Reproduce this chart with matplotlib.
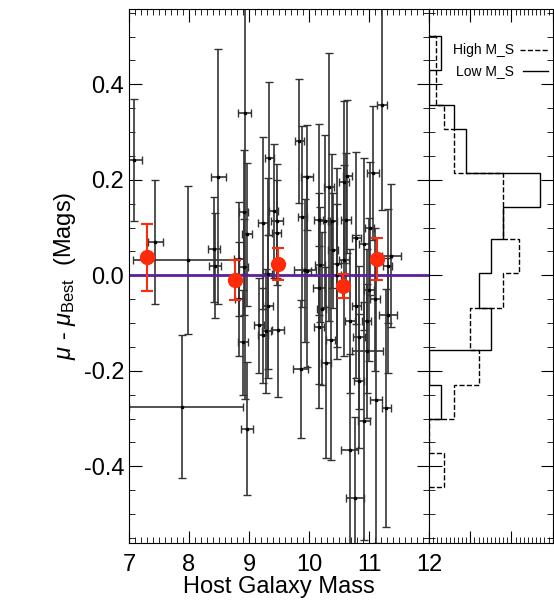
import matplotlib
matplotlib.use("Agg")
from matplotlib import pyplot as plt
from matplotlib.ticker import MultipleLocator, NullFormatter

plt.rcParams['font.family'] = ['Liberation Sans', 'DejaVu Sans']
plt.rcParams['mathtext.fontset'] = 'custom'
plt.rcParams['mathtext.rm'] = 'Liberation Sans'
plt.rcParams['mathtext.it'] = 'Liberation Sans:italic'

# individual SNe: host mass, residual, mass err (lo, hi), residual err
mass = [7.09, 7.44, 7.98, 8.49, 8.42, 8.44, 8.93, 8.91, 8.97, 8.83, 8.91, 9.34, 9.23, 9.41,
        9.46, 9.46, 9.84, 9.97, 9.89, 10.33, 10.64, 10.58, 11.22, 11.07, 10.39, 10.62, 11.01,
        10.92, 10.79, 11.37, 10.40, 10.16, 10.27, 9.93, 10.18, 10.46, 10.58, 11.31, 9.31,
        7.88, 8.97, 8.90, 8.84, 9.17, 9.23, 9.29, 9.32, 9.49, 9.86, 10.17, 10.21, 10.17, 10.28,
        10.36, 10.68, 10.77, 10.91, 11.11, 11.29, 11.31, 10.84, 10.97, 10.83, 11.10, 11.00,
        10.96, 10.68, 10.79, 10.46, 9.96]
resid = [0.242, 0.070, 0.031, 0.206, 0.054, 0.020, 0.340, 0.133, 0.086, 0.034, 0.017, 0.245,
         0.110, 0.134, 0.114, 0.089, 0.282, 0.205, 0.123, 0.185, 0.207, 0.195, 0.356, 0.214,
         0.114, 0.116, 0.098, 0.066, 0.078, 0.041, 0.052, 0.116, 0.114, 0.010, 0.022, 0.024,
         0.031, 0.019, 0.003,
         -0.275, -0.321, -0.140, -0.050, -0.105, -0.126, -0.117, -0.065, -0.115, -0.196,
         -0.108, -0.070, -0.027, -0.183, -0.136, -0.365, -0.467, -0.305, -0.261, -0.278,
         -0.084, -0.130, -0.159, -0.222, -0.050, -0.030, -0.096, -0.096, -0.065, 0.000, 0.008]
mass_err_lo = [0.12, 0.12, 0.91, 0.12, 0.10, 0.10, 0.11, 0.08, 0.08, 0.08, 0.08, 0.08, 0.08,
               0.08, 0.10, 0.08, 0.08, 0.10, 0.08, 0.08, 0.08, 0.08, 0.08, 0.10, 0.08, 0.08,
               0.08, 0.08, 0.08, 0.16, 0.08, 0.08, 0.08, 0.18, 0.08, 0.08, 0.08, 0.08, 0.08,
               0.88, 0.10, 0.08, 0.08, 0.08, 0.08, 0.08, 0.08, 0.10, 0.12, 0.08, 0.08, 0.10,
               0.08, 0.08, 0.14, 0.15, 0.10, 0.10, 0.08, 0.15, 0.10, 0.26, 0.08, 0.08, 0.08,
               0.08, 0.08, 0.08, 0.08, 0.08]
mass_err_hi = [0.12, 0.12, 0.85, 0.12, 0.10, 0.10, 0.11, 0.08, 0.08, 0.08, 0.08, 0.08, 0.08,
               0.08, 0.10, 0.08, 0.08, 0.10, 0.08, 0.08, 0.08, 0.08, 0.08, 0.10, 0.08, 0.08,
               0.08, 0.08, 0.08, 0.16, 0.08, 0.08, 0.08, 0.18, 0.08, 0.08, 0.08, 0.08, 0.08,
               1.02, 0.10, 0.08, 0.08, 0.08, 0.08, 0.08, 0.08, 0.10, 0.12, 0.08, 0.08, 0.10,
               0.08, 0.08, 0.14, 0.15, 0.10, 0.10, 0.08, 0.15, 0.10, 0.26, 0.08, 0.08, 0.08,
               0.08, 0.08, 0.08, 0.08, 0.08]
resid_err = [0.128, 0.13, 0.155, 0.267, 0.11, 0.11, 0.60, 0.13, 0.15, 0.12, 0.10, 0.16, 0.18,
             0.14, 0.12, 0.11, 0.13, 0.11, 0.19, 0.28, 0.16, 0.17, 0.22, 0.14, 0.14, 0.14,
             0.14, 0.18, 0.18, 0.15, 0.12, 0.20, 0.18, 0.15, 0.12, 0.20, 0.20, 0.12, 0.20,
             0.15, 0.14, 0.11, 0.12, 0.10, 0.10, 0.13, 0.15, 0.14, 0.145, 0.17, 0.16, 0.20,
             0.20, 0.25, 0.20, 0.17, 0.25, 0.30, 0.25, 0.12, 0.15, 0.14, 0.14, 0.15, 0.15,
             0.15, 0.15, 0.15, 0.15, 0.20]

# binned means
bin_mass = [7.30, 8.77, 9.49, 10.57, 11.14]
bin_resid = [0.038, -0.010, 0.024, -0.022, 0.034]
bin_err = [0.070, 0.041, 0.033, 0.025, 0.044]

# histograms (edges ascending in mag)
low_edges = [-0.302, -0.230, -0.157, -0.068, 0.004, 0.075, 0.144, 0.215, 0.307, 0.357, 0.429, 0.502]
low_counts = [1, 0, 5, 4, 5, 6, 9, 3, 2, 0, 1]
high_edges = [-0.444, -0.373, -0.302, -0.230, -0.157, -0.068, 0.004, 0.075, 0.215, 0.307, 0.357, 0.502]
high_counts = [1.2, 0, 2, 4, 3.3, 6, 7.3, 6, 2, 1.2, 0.6]

fig = plt.figure(figsize=(5.54, 6.15), dpi=100)
ax = fig.add_axes([0.2329, 0.1176, 0.5415, 0.8673])
axh = fig.add_axes([0.7744, 0.1176, 0.2233, 0.8673])

ax.errorbar(mass, resid, xerr=[mass_err_lo, mass_err_hi], yerr=resid_err, fmt='s', ms=2,
            color='black', ecolor='#333333', elinewidth=1.2, capsize=3, capthick=1)
ax.axhline(0, color='#5b1f9e', lw=2)
ax.errorbar(bin_mass, bin_resid, yerr=bin_err, fmt='o', ms=10, color='#ff2a0a',
            ecolor='#ff2a0a', elinewidth=1.5, capsize=4, capthick=1.5, zorder=5)

ylo, yhi = -0.56, 0.557
ax.set_xlim(7, 12)
ax.set_ylim(ylo, yhi)
ax.xaxis.set_major_locator(MultipleLocator(1))
ax.xaxis.set_minor_locator(MultipleLocator(0.1))
ax.yaxis.set_major_locator(MultipleLocator(0.2))
ax.yaxis.set_minor_locator(MultipleLocator(0.05))
ax.yaxis.set_major_formatter(plt.FuncFormatter(lambda v, p: f"{v:.1f}"))
ax.tick_params(which='both', direction='in', top=True, right=True, labelsize=17)
ax.tick_params(which='major', length=9)
ax.tick_params(which='minor', length=4)
ax.tick_params(axis='x', pad=8)
ax.set_xlabel("Host Galaxy Mass", fontsize=17, labelpad=0)
ax.set_ylabel(r"$\mu$ - $\mu_{\rm Best}$  (Mags)", fontsize=17)

axh.stairs(high_counts, high_edges, orientation='horizontal', color='black', ls='--', lw=1)
axh.stairs(low_counts, low_edges, orientation='horizontal', color='black', lw=1)
axh.set_ylim(ylo, yhi)
axh.set_xlim(0, 10)
axh.xaxis.set_major_locator(MultipleLocator(10 / 3))
axh.xaxis.set_minor_locator(MultipleLocator(1 / 3))
axh.yaxis.set_major_locator(MultipleLocator(0.2))
axh.yaxis.set_minor_locator(MultipleLocator(0.05))
axh.xaxis.set_major_formatter(NullFormatter())
axh.yaxis.set_major_formatter(NullFormatter())
axh.tick_params(which='both', direction='in', top=True, right=True)
axh.tick_params(which='major', length=9)
axh.tick_params(which='minor', length=4)

axh.text(0.685, 0.924, "High M_S", transform=axh.transAxes, fontsize=10, va='center', ha='right')
axh.plot([0.737, 0.965], [0.924, 0.924], transform=axh.transAxes, color='black', ls='--', lw=1)
axh.text(0.685, 0.885, "Low M_S", transform=axh.transAxes, fontsize=10, va='center', ha='right')
axh.plot([0.76, 0.965], [0.885, 0.885], transform=axh.transAxes, color='black', lw=1)

fig.savefig("out.png", dpi=100)
